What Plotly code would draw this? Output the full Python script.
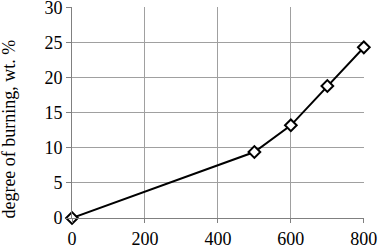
import plotly.graph_objects as go

temperature = [0, 500, 600, 700, 800]
burning = [0, 9.4, 13.2, 18.8, 24.3]
x_ticks = [0, 200, 400, 600, 800]
y_ticks = [0, 5, 10, 15, 20, 25, 30]
y_title = "degree of burning, wt. %"

fig = go.Figure()
fig.add_trace(go.Scatter(
    x=temperature, y=burning, mode="lines+markers",
    line=dict(color="black", width=2),
    marker=dict(symbol="diamond", size=9, color="white",
                line=dict(color="black", width=2)),
    cliponaxis=False,
))
font = dict(family="Liberation Serif", size=18, color="black")
fig.update_layout(
    width=378, height=247,
    margin=dict(l=72, r=14, t=7, b=29),
    paper_bgcolor="white", plot_bgcolor="white",
    showlegend=False, font=font,
)
fig.add_annotation(
    text=y_title, textangle=-90, xref="paper", yref="paper",
    x=-0.215, y=0.42, xanchor="center", yanchor="middle",
    showarrow=False, font=font,
)
fig.update_xaxes(
    range=[0, 800.5], tickvals=x_ticks, showgrid=True, gridcolor="#a0a0a0", gridwidth=1,
    showline=True, linecolor="#808080", linewidth=1, ticks="outside", ticklen=4,
    tickcolor="#808080", zeroline=False, tickfont=font, automargin=False,
    ticklabeloverflow="allow",
)
fig.update_yaxes(
    range=[0, 30.05], tickvals=y_ticks, showgrid=True, gridcolor="#a0a0a0", gridwidth=1,
    showline=True, linecolor="#808080", linewidth=1, ticks="outside", ticklen=5,
    tickcolor="#808080", zeroline=False, tickfont=font, automargin=False,
    ticklabeloverflow="allow",
)
fig.write_html("out.html", config={"displayModeBar": False},
               post_script="document.body.style.margin='0';")
